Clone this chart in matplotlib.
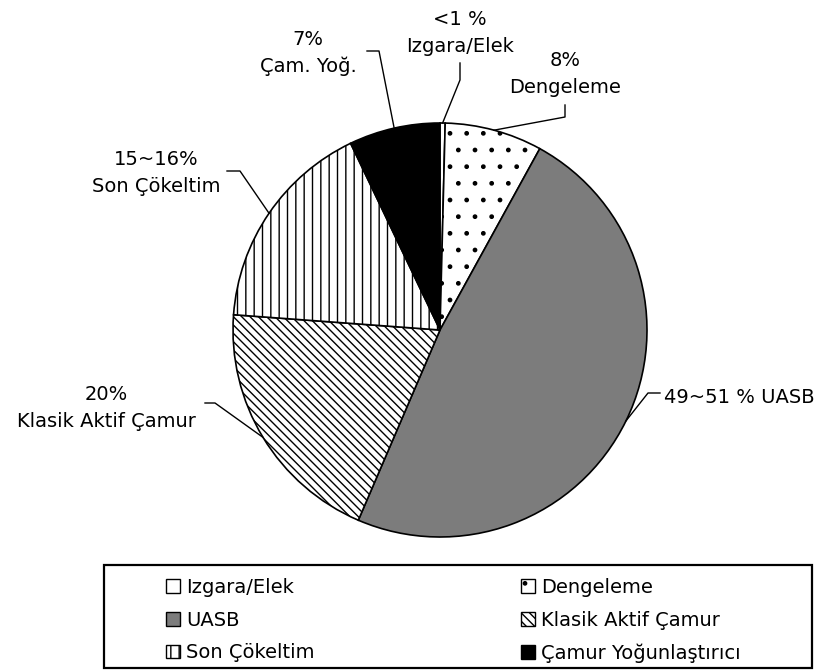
import numpy as np
import matplotlib
matplotlib.use("Agg")
import matplotlib.pyplot as plt
from matplotlib.patches import Patch, Rectangle

plt.rcParams['font.family'] = ['DejaVu Sans']
plt.rcParams['hatch.linewidth'] = 1.0

# veriler (saat yönünde, tepeden başlayarak)
names = ['Izgara/Elek', 'Dengeleme', 'UASB', 'Klasik Aktif Çamur',
         'Son Çökeltim', 'Çamur Yoğunlaştırıcı']
shares = [0.4, 7.6, 48.4, 19.7, 16.7, 7.1]
label_top = ['<1 %', '8%', '', '20%', '15~16%', '7%']
label_bottom = ['Izgara/Elek', 'Dengeleme', '49~51 % UASB', 'Klasik Aktif Çamur',
                'Son Çökeltim', 'Çam. Yoğ.']

faces = ['white', 'white', '#7c7c7c', 'white', 'white', 'black']
hatches = [None, '.', None, '\\\\\\\\', '||', None]

# etiket yerleşimi (piksel, üstten): metin merkezi x, 2. satır taban çizgisi, dirsek noktaları
lab_x = [460, 565, 664, 106, 156, 308]
lab_base = [52, 93, 403, 427, 192, 72]
lab_ha = ['center', 'center', 'left', 'center', 'center', 'center']
elbows = [[(460, 63), (460, 80)],
          [(565, 105), (565, 117)],
          [(660, 393), (648, 393)],
          [(205, 403), (215, 403)],
          [(227, 171), (240, 171)],
          [(367, 51), (379, 51)]]

W, H = 818, 670
cx, cy, R = 440, 330, 207
fs = 14

fig = plt.figure(figsize=(W / 100, H / 100), dpi=100)
ax = fig.add_axes([0, 0, 1, 1])

wedges, _ = ax.pie(shares, colors=faces, startangle=-90, counterclock=True,
                   center=(cx, cy), radius=R,
                   wedgeprops=dict(edgecolor='black', linewidth=1.2))
for w, h in zip(wedges, hatches):
    if h:
        w.set_hatch(h)

ax.set_xlim(0, W)
ax.set_ylim(H, 0)
ax.set_aspect('equal')
ax.axis('off')

# etiketler ve kılavuz çizgileri
for i, w in enumerate(wedges):
    mid = np.deg2rad((w.theta1 + w.theta2) / 2)
    ex, ey = cx + R * np.cos(mid), cy + R * np.sin(mid)
    pts = elbows[i] + [(ex, ey)]
    ax.plot([p[0] for p in pts], [p[1] for p in pts], color='black', lw=1.0)
    if label_top[i]:
        ax.text(lab_x[i], lab_base[i] - 27, label_top[i], ha=lab_ha[i],
                va='baseline', fontsize=fs)
    ax.text(lab_x[i], lab_base[i], label_bottom[i], ha=lab_ha[i],
            va='baseline', fontsize=fs)

# lejant
handles = [Patch(facecolor=f, edgecolor='black', hatch=h, linewidth=1.0)
           for f, h in zip(faces, hatches)]
order = [0, 2, 4, 1, 3, 5]
ax.legend([handles[k] for k in order], [names[k] for k in order], ncol=2,
          loc='upper left', bbox_to_anchor=(166, 578), bbox_transform=ax.transData,
          frameon=False, fontsize=fs, handlelength=0.7, handleheight=0.7,
          handletextpad=0.35, labelspacing=0.7, columnspacing=10.6,
          borderpad=0, borderaxespad=0)
ax.add_patch(Rectangle((104, 565), 708, 103, fill=False, edgecolor='black',
                       linewidth=1.6, clip_on=False))

fig.savefig('out.png', dpi=100)
